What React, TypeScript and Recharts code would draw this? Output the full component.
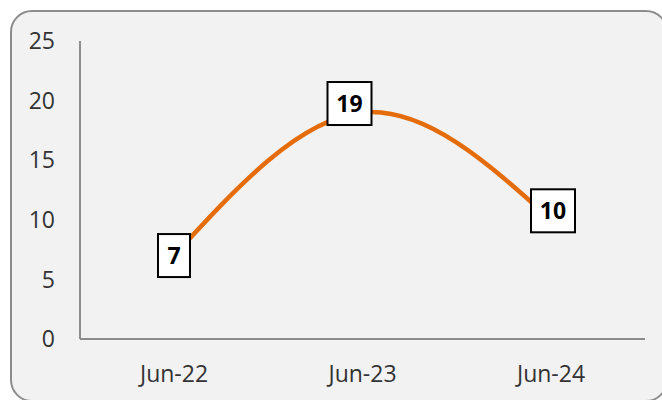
import { LineChart, Line, XAxis, YAxis, LabelList } from "recharts"

const months = ["Jun-22", "Jun-23", "Jun-24"]
const counts = [7, 19, 10]
const yTicks = [0, 5, 10, 15, 20, 25]

const data = months.map((month, i) => ({ month, value: counts[i] }))

const FONT = "'Open Sans', sans-serif"

// label boxes were nudged by hand in the original
const labelShift = [
  [0, 0],
  [-13, -9],
  [2, -9],
]

const BoxLabel = (props: any) => {
  const { x, y, value, index } = props
  if (x == null || y == null) return null
  const [dx, dy] = labelShift[index] || [0, 0]
  const text = String(value)
  const w = 20 + 12 * text.length
  const h = 43
  const cx = x + dx
  const cy = y + dy
  return (
    <g>
      <rect
        x={cx - w / 2}
        y={cy - h / 2}
        width={w}
        height={h}
        fill="#ffffff"
        stroke="#000000"
        strokeWidth={2}
      />
      <text
        x={cx}
        y={cy}
        dy="0.35em"
        textAnchor="middle"
        fontFamily={FONT}
        fontWeight={700}
        fontSize={23}
        fill="#000000"
      >
        {text}
      </text>
    </g>
  )
}

export default function App() {
  return (
    <div
      style={{
        position: "fixed",
        left: 0,
        top: 0,
        width: 662,
        height: 400,
        overflow: "hidden",
        background: "#ffffff",
      }}
    >
      <div
        style={{
          position: "absolute",
          left: 10,
          top: 10,
          width: 658,
          height: 392,
          boxSizing: "border-box",
          border: "2px solid #8c8c8c",
          borderRadius: 22,
          background: "#f2f2f2",
        }}
      />
      <div style={{ position: "absolute", left: 0, top: 0 }}>
        <LineChart
          width={662}
          height={400}
          data={data}
          margin={{ top: 41, right: 17, left: 0, bottom: 31 }}
        >
          <XAxis
            dataKey="month"
            height={30}
            padding={{ left: 94, right: 94 }}
            axisLine={{ stroke: "#8c8c8c", strokeWidth: 2 }}
            tickLine={false}
            tickSize={6}
            tickMargin={21}
            tick={{ fill: "#333333", fontSize: 23, fontFamily: FONT }}
          />
          <YAxis
            width={80}
            domain={[0, 25]}
            ticks={yTicks}
            interval={0}
            axisLine={{ stroke: "#8c8c8c", strokeWidth: 2 }}
            tickLine={false}
            tickSize={6}
            tickMargin={19}
            tick={{ fill: "#333333", fontSize: 23, fontFamily: FONT }}
          />
          <Line
            type="natural"
            dataKey="value"
            stroke="#e46c0a"
            strokeWidth={4.5}
            dot={false}
            activeDot={false}
            isAnimationActive={false}
          >
            <LabelList dataKey="value" content={BoxLabel} />
          </Line>
        </LineChart>
      </div>
    </div>
  )
}
